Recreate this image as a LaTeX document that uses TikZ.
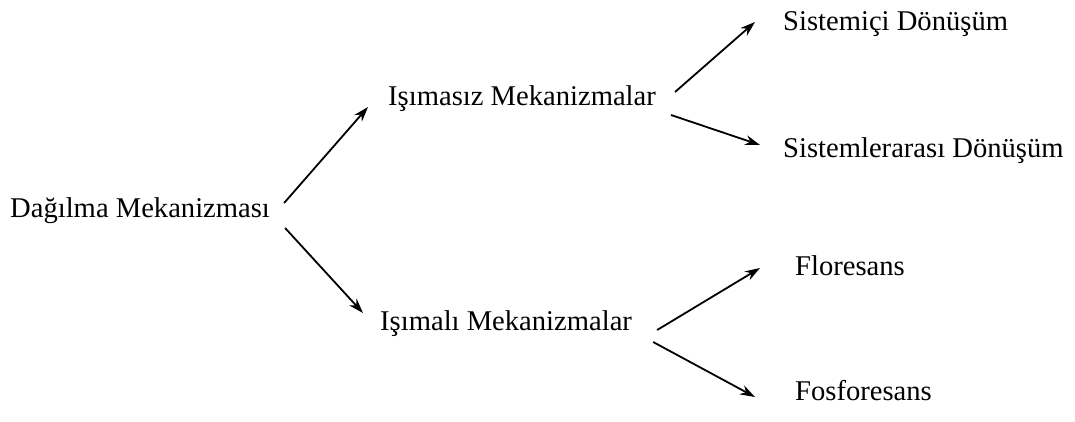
\documentclass[tikz,border=0pt]{standalone}
\usepackage{fontspec}
\setmainfont{Liberation Serif}
\usetikzlibrary{arrows.meta}
\begin{document}
\begin{tikzpicture}[x=1pt,y=-1pt,
  label/.style={anchor=base west,inner sep=0pt,font=\fontsize{28.6}{34}\selectfont},
  arr/.style={line width=1.8pt,-{Stealth[length=15pt,width=10pt]}}]
\useasboundingbox (0,0) rectangle (1075,421);
% tree of mechanisms
\node[label] (dm) at (10,217) {Dağılma Mekanizması};
\node[label] (ii) at (388,105) {Işımasız Mekanizmalar};
\node[label] (im) at (380,330) {Işımalı Mekanizmalar};
\node[label] (sd) at (783,30) {Sistemiçi Dönüşüm};
\node[label] (sa) at (783,157) {Sistemlerarası Dönüşüm};
\node[label] (fl) at (795,275) {Floresans};
\node[label] (fo) at (795,400) {Fosforesans};
% branches
\draw[arr] ([shift={(14,-14)}]dm.base east) -- ([shift={(-20,2)}]ii.base west);
\draw[arr] ([shift={(15,11)}]dm.base east) -- ([shift={(-17,-17)}]im.base west);
\draw[arr] ([shift={(19,-13)}]ii.base east) -- ([shift={(-28,-8)}]sd.base west);
\draw[arr] ([shift={(15,10)}]ii.base east) -- ([shift={(-23,-12)}]sa.base west);
\draw[arr] ([shift={(25,0)}]im.base east) -- ([shift={(-35,-7)}]fl.base west);
\draw[arr] ([shift={(21,12)}]im.base east) -- ([shift={(-40,-3)}]fo.base west);
\end{tikzpicture}
\end{document}
